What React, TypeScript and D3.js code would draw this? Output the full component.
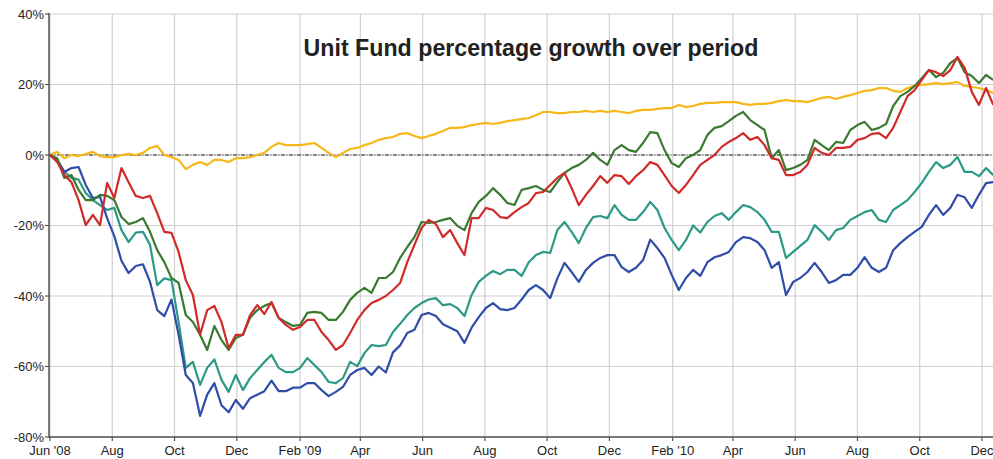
import React from "react";
import * as d3 from "d3";

const W = 993;
const H = 459;

const START = "2008-06-01";
const WEEKS = 133;

const yTicks = [40, 20, 0, -20, -40, -60, -80];
const xTickDates = [
  "2008-06-01", "2008-08-01", "2008-10-01", "2008-12-01",
  "2009-02-01", "2009-04-01", "2009-06-01", "2009-08-01", "2009-10-01", "2009-12-01",
  "2010-02-01", "2010-04-01", "2010-06-01", "2010-08-01", "2010-10-01", "2010-12-01",
];
const xTickLabels = [
  "Jun '08", "Aug", "Oct", "Dec", "Feb '09", "Apr", "Jun", "Aug", "Oct", "Dec",
  "Feb '10", "Apr", "Jun", "Aug", "Oct", "Dec",
];

const yellow = [0, 0.9, -0.9, 0, -0.3, 0.3, 0.9, -0.3, -0.6, -0.6, 0, 0.3, 0, 0.6, 2, 2.6, 0, -0.6, -1.4, -4, -2.8, -2, -2.8, -1.4, -1.4, -2, -0.9, -0.9, -0.6, 0, 0.6, 2.3, 3.4, 2.8, 2.8, 2.8, 3.1, 3.4, 2, 0.6, -0.6, 0.6, 1.7, 2, 2.8, 3.4, 4.3, 4.8, 5.1, 6, 6.2, 5.4, 4.8, 5.4, 6, 6.8, 7.7, 7.7, 7.9, 8.5, 8.8, 9.1, 8.8, 9.1, 9.6, 9.9, 10.2, 10.5, 11.3, 12.2, 12.2, 11.9, 11.9, 12.2, 12.2, 12.5, 12.2, 12.5, 12.2, 12.5, 12.2, 11.9, 12.5, 12.8, 12.8, 13.1, 13.3, 13.3, 14.2, 13.6, 13.9, 14.5, 14.8, 14.8, 15, 15, 15, 14.5, 14.2, 14.5, 14.5, 14.8, 15.3, 15.6, 15.3, 15.3, 15, 15.6, 16.2, 16.5, 15.9, 16.5, 17, 17.6, 18.2, 18.4, 19, 19, 18.2, 17.9, 19, 19.6, 19.9, 20.1, 20.4, 20.1, 20.4, 20.7, 19.6, 19.3, 19, 18.4, 17.6];

const green = [0, -0.9, -6.5, -5.7, -9.9, -12.8, -12.8, -11.3, -11.6, -12.8, -17.6, -19.6, -19, -17.9, -21.8, -27, -30.4, -34.9, -36.3, -45.4, -47.4, -51, -55.3, -48.5, -52.5, -55.3, -51.9, -51, -46.2, -44, -42.8, -42, -46.2, -47.4, -48.5, -48.2, -44.8, -44.5, -44.8, -46.8, -46.8, -44.5, -41.1, -39.1, -37.7, -39.1, -34.9, -34.9, -33.2, -29.2, -26.1, -23.3, -19, -19.3, -19, -18.4, -17.9, -20.1, -21.3, -16.5, -13.3, -11.6, -9.4, -11.3, -13.6, -14.2, -9.9, -9.4, -8.8, -9.9, -10.5, -7.7, -5.1, -3.7, -2.8, -1.4, 0.6, -1.4, -2.8, 1.4, 2.8, 1.4, 0.9, 3.4, 6.5, 6.2, 1.4, -2.3, -3.4, -0.9, 0, 1.4, 5.7, 7.7, 8.2, 9.6, 11.1, 12.2, 9.9, 8.5, 7.1, -0.9, 1.4, -4.3, -3.7, -2.8, -1.4, 4.3, 2.8, 1.4, 3.7, 3.4, 7.1, 8.5, 9.4, 7.1, 7.7, 8.8, 13.9, 16.7, 17.9, 19.6, 21.8, 24.1, 22.1, 23.3, 26.1, 27.5, 23.5, 22.4, 20.4, 22.7, 21.3];

const red = [0, -2, -5.7, -7.7, -12.8, -19.9, -17, -19.9, -7.9, -12.2, -3.7, -7.7, -11.6, -12.2, -11.6, -16.5, -21.8, -22.1, -27.5, -35.5, -39.7, -51, -44, -42.8, -47.4, -54.8, -51, -51, -45.4, -42.6, -45.1, -41.7, -46.2, -48.2, -49.6, -48.8, -46.8, -46.8, -50.2, -52.5, -55.3, -53.9, -50.5, -46.8, -44, -42, -41.1, -40, -38.3, -36.3, -30.4, -25.5, -20.7, -18.4, -19.6, -23.3, -21.3, -25, -28.4, -17.9, -17.9, -15, -15.6, -17.6, -17.9, -16.2, -14.8, -13.6, -10.8, -10.5, -8.5, -6.5, -5.1, -9.4, -14.2, -11.3, -8.8, -6, -7.9, -5.7, -6, -8.2, -6, -4.3, -2, -2.8, -5.7, -8.8, -10.8, -8.5, -5.7, -2.8, -1.4, 0, 2.3, 3.7, 4.8, 6.2, 4.3, 5.1, 2.8, -0.9, -1.4, -5.7, -5.7, -4.8, -2.8, 2, 0.6, 0, 2, 2, 2.3, 4.3, 4.8, 6, 6.2, 4.8, 7.7, 12.2, 16.7, 18.4, 21.3, 24.1, 23.5, 22.4, 24.1, 27.8, 24.7, 17.9, 14.2, 19, 14.2];

const teal = [0, -1.4, -4.8, -6.5, -7, -10.8, -12.8, -14.2, -15.6, -15, -21.3, -24.7, -22, -21.8, -25.5, -36.9, -35, -35.5, -47.4, -60.4, -58.7, -65.2, -60.4, -58, -63.8, -67.2, -62.4, -66.7, -63.3, -61, -58.7, -56.7, -60.4, -61.6, -61.6, -60.4, -57.6, -59.6, -61.6, -64.4, -64.7, -63.3, -58.7, -59.9, -56.2, -53.9, -54.2, -53.9, -50.2, -47.9, -45.4, -43.4, -42, -41, -40.6, -42.6, -42.3, -43.4, -45.7, -39.7, -36, -34.3, -32.9, -33.8, -32.6, -32.6, -34.3, -30.4, -28.4, -27.5, -27.8, -21.3, -19, -21.8, -25, -20.7, -17.6, -17.3, -17.9, -14.2, -17, -18.4, -18.4, -16.2, -13.3, -15.6, -20.7, -24.1, -27, -24.1, -20, -22, -19, -17.3, -16.5, -18.4, -16.2, -14.2, -14.8, -16.2, -18.4, -21.8, -21.8, -29.2, -27.5, -25.8, -24.1, -19.9, -21.8, -24.1, -21.3, -20.7, -18.4, -17.3, -16.2, -15.6, -18.4, -19, -15.6, -14.2, -12.8, -10.5, -7.9, -4.8, -2, -3.7, -2.8, -0.6, -4.8, -4.8, -6, -3.7, -5.7];

const blue = [0, -1.4, -4.8, -3.7, -3.4, -8.5, -12.2, -11.9, -18, -23, -30, -33.5, -31.5, -31, -36, -44, -45.7, -41, -51, -62.4, -64.7, -74, -68, -64.7, -71, -73, -69.5, -72, -69, -68, -67, -64, -67, -67, -66, -66, -64.7, -64.7, -66.7, -68.4, -67.2, -65.8, -62.4, -61, -60.4, -62.4, -60, -61.7, -56, -54, -50.5, -49.6, -45.4, -44.8, -45.7, -48, -49, -50, -53.3, -49, -46, -43.4, -42, -43.7, -44, -43.4, -41, -38.3, -36.9, -38.3, -40.6, -35, -30.6, -33.2, -36, -32.6, -30.6, -29.2, -28.4, -28.4, -31.8, -33.2, -32, -29.8, -24, -26.4, -29.2, -34, -38.3, -34.9, -32.6, -34.3, -30.4, -29, -28.4, -27.5, -24.7, -23.3, -23.6, -24.7, -27, -32, -30.4, -39.7, -36, -34.9, -33.2, -30.6, -33.2, -36.3, -35.5, -34, -34, -32, -29, -32, -33.2, -32, -27, -25, -23.3, -21.8, -20.4, -17, -14.2, -17, -15, -11.3, -12, -15, -11.3, -8, -7.7];

const seriesList = [
  { name: "yellow", values: yellow, color: "#f6b719" },
  { name: "teal", values: teal, color: "#2a9a86" },
  { name: "blue", values: blue, color: "#2f4da8" },
  { name: "green", values: green, color: "#3a7a30" },
  { name: "red", values: red, color: "#d02a2a" },
];

export default function App() {
  const parse = d3.timeParse("%Y-%m-%d");
  const start = parse(START) as Date;
  const dates = d3.range(WEEKS).map((i) => d3.timeDay.offset(start, i * 7));

  const x = d3
    .scaleTime()
    .domain([parse("2008-06-01") as Date, parse("2010-12-01") as Date])
    .range([50, 982]);
  const y = d3.scaleLinear().domain([-80, 40]).range([437, 14]);

  const line = d3
    .line<number>()
    .x((_, i) => x(dates[i]))
    .y((d) => y(d))
    .curve(d3.curveLinear);

  const font = "Liberation Sans, Arial, sans-serif";
  const left = 49;
  const right = W;

  return (
    <svg
      width={W}
      height={H}
      style={{ position: "absolute", left: 0, top: 0, background: "#fff" }}
    >
      {yTicks.map((t) => (
        <line key={"gy" + t} x1={left} x2={right} y1={y(t)} y2={y(t)} stroke="#d0d0d0" strokeWidth={1.2} />
      ))}
      {xTickDates.map((d) => {
        const xx = x(parse(d) as Date);
        return <line key={"gx" + d} x1={xx} x2={xx} y1={14} y2={437} stroke="#d0d0d0" strokeWidth={1.2} />;
      })}
      <line x1={left} x2={right} y1={y(0)} y2={y(0)} stroke="#222" strokeWidth={1} strokeDasharray="4,1.5,1,1.5" />
      {seriesList.map((s) => (
        <path key={s.name} d={line(s.values) || ""} fill="none" stroke={s.color} strokeWidth={2.2} strokeLinejoin="round" />
      ))}
      <line x1={left} x2={left} y1={13} y2={438} stroke="#555" strokeWidth={1.5} />
      <line x1={left} x2={right} y1={437} y2={437} stroke="#555" strokeWidth={1.5} />
      {yTicks.map((t) => (
        <g key={"ty" + t}>
          <line x1={left - 4} x2={left} y1={y(t)} y2={y(t)} stroke="#555" strokeWidth={1.2} />
          <text x={left - 5} y={y(t)} dy="0.35em" textAnchor="end" fontFamily={font} fontSize={13} fill="#222">
            {t + "%"}
          </text>
        </g>
      ))}
      {xTickDates.map((d, i) => {
        const xx = x(parse(d) as Date);
        return (
          <g key={"tx" + d}>
            <line x1={xx} x2={xx} y1={437} y2={441} stroke="#555" strokeWidth={1.2} />
            <text x={xx} y={455} textAnchor="middle" fontFamily={font} fontSize={13} fill="#222">
              {xTickLabels[i]}
            </text>
          </g>
        );
      })}
      <text x={531} y={56} textAnchor="middle" fontFamily={font} fontSize={23.2} fontWeight="bold" fill="#222">
        Unit Fund percentage growth over period
      </text>
    </svg>
  );
}
